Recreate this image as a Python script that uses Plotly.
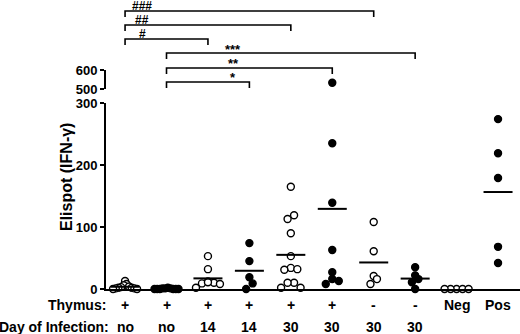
import plotly.graph_objects as go

# ---------------- data ----------------
thymus = ["+", "+", "+", "+", "+", "+", "-", "-", "Neg", "Pos"]
day = ["no", "no", "14", "14", "30", "30", "30", "30", "", ""]
filled = [False, True, False, True, False, True, False, True, False, True]
g1 = [13, 8, 6, 4, 3, 2, 2, 1, 1, 0, 0]
g2 = [2, 1, 1, 1, 0, 0, 0, 0, 0, 0]
g3 = [53, 32, 12, 10, 9, 8, 11, 2]
g4 = [74, 45, 19, 9, 0]
g5 = [165, 119, 113, 90, 53, 34, 32, 31, 10, 10, 2, 2]
g6 = [533, 235, 139, 63, 27, 16, 13, 8]
g7 = [108, 61, 21, 16, 8]
g8 = [35, 22, 16, 11, 0]
g9 = [0, 0, 0, 0, 0]
g10 = [274, 219, 179, 68, 42]
groups = [g1, g2, g3, g4, g5, g6, g7, g8, g9, g10]
brackets_hash = [(1, 3, "#"), (1, 5, "##"), (1, 7, "###")]
brackets_star = [(2, 4, "*"), (2, 6, "**"), (2, 8, "***")]

# ---------------- layout geometry ----------------
W, H = 520, 334
x_left_px = 106
xr = [0.54, 10.53]
ylow_dom = [1 - 289 / H, 1 - 103 / H]
yup_dom = [1 - 89 / H, 1 - 70 / H]
px_per_x = (W - x_left_px) / (xr[1] - xr[0])
px_per_y = (ylow_dom[1] - ylow_dom[0]) * H / 300.0


def swarm(vals, bin_px=6.0, max_step=6.5, max_width=24.0):
    order = sorted(range(len(vals)), key=lambda i: vals[i])
    bins = []
    for i in order:
        yp = min(vals[i], 300) * px_per_y
        if bins and yp - bins[-1][0] < bin_px:
            bins[-1][1].append(i)
        else:
            bins.append((yp, [i]))
    offs = [0.0] * len(vals)
    for _, idx in bins:
        n = len(idx)
        s = max_step if n < 2 else min(max_step, max_width / (n - 1))
        idx = sorted(idx, key=lambda i: -vals[i])
        slots = sorted(range(n), key=lambda j: (abs(j - (n - 1) / 2.0), -j))
        for i, j in zip(idx, slots):
            offs[i] = (j - (n - 1) / 2.0) * s / px_per_x
    return offs


fig = go.Figure()
for gi, vals in enumerate(groups):
    xc = gi + 1
    low = [v for v in vals if v <= 300]
    up = [v for v in vals if v > 300]
    offs = swarm(low)
    mk = dict(size=7, color="black" if filled[gi] else "white",
              line=dict(color="black", width=1.4))
    fig.add_trace(go.Scatter(x=[xc + o for o in offs], y=low, mode="markers",
                             marker=mk, cliponaxis=False, showlegend=False))
    if up:
        fig.add_trace(go.Scatter(x=[xc] * len(up), y=up, mode="markers", yaxis="y2",
                                 marker=mk, cliponaxis=False, showlegend=False))
    if gi != 8:
        m = sum(vals) / len(vals)
        fig.add_trace(go.Scatter(x=[xc - 0.35, xc + 0.35], y=[m, m], mode="lines",
                                 line=dict(color="black", width=2), cliponaxis=False,
                                 showlegend=False))

font = "Liberation Sans, Arial, sans-serif"
axfont = dict(family=font, size=13, color="black")

fig.update_layout(
    template="none",
    width=W, height=H, margin=dict(l=0, r=0, t=0, b=0, pad=0), autosize=False,
    plot_bgcolor="white", paper_bgcolor="white", hovermode=False,
    xaxis=dict(domain=[x_left_px / W, 1], range=xr, showgrid=False, zeroline=False,
               showticklabels=False, ticks="", showline=True, linecolor="black",
               linewidth=2, anchor="y", automargin=False),
    yaxis=dict(domain=ylow_dom, range=[0, 300], tickvals=[0, 100, 200, 300],
               ticktext=["<b>0</b>", "<b>100</b>", "<b>200</b>", "<b>300</b>"],
               showgrid=False, zeroline=False, showline=True, linecolor="black",
               linewidth=2, ticks="outside", ticklen=4, tickwidth=2, tickcolor="black",
               tickfont=axfont, anchor="x", automargin=False),
    yaxis2=dict(domain=yup_dom, range=[500, 600], tickvals=[500, 600],
                ticktext=["<b>500</b>", "<b>600</b>"],
                showgrid=False, zeroline=False, showline=True, linecolor="black",
                linewidth=2, ticks="outside", ticklen=4, tickwidth=2, tickcolor="black",
                tickfont=axfont, anchor="x", automargin=False),
)

ann = []
ann.append(dict(text="<b>Elispot (IFN-γ)</b>", x=66 / W, y=1 - 177 / H, xref="paper",
                yref="paper", xanchor="center", yanchor="middle", textangle=-90,
                showarrow=False, font=dict(family=font, size=16, color="black")))
lab_font = dict(family=font, size=14, color="black")
ann.append(dict(text="<b>Thymus:</b>", x=108 / W, y=1 - 305 / H, xref="paper", yref="paper",
                xanchor="right", yanchor="middle", showarrow=False, font=lab_font))
ann.append(dict(text="<b>Day of Infection:</b>", x=111 / W, y=1 - 327 / H, xref="paper",
                yref="paper", xanchor="right", yanchor="middle", showarrow=False,
                font=lab_font))
for i in range(10):
    ann.append(dict(text="<b>%s</b>" % thymus[i], x=i + 1, y=1 - 305 / H, xref="x",
                    yref="paper", xanchor="center", yanchor="middle", showarrow=False,
                    font=lab_font))
    if day[i]:
        ann.append(dict(text="<b>%s</b>" % day[i], x=i + 1, y=1 - 327 / H, xref="x",
                        yref="paper", xanchor="center", yanchor="middle",
                        showarrow=False, font=lab_font))

shapes = []
bys = {"#": 39, "##": 25, "###": 11, "*": 82, "**": 68, "***": 53}
for (a, b, s) in brackets_hash + brackets_star:
    yb = 1 - bys[s] / H
    yt = 1 - (bys[s] + 6) / H
    path = "M %f,%f L %f,%f L %f,%f L %f,%f" % (a, yt, a, yb, b, yb, b, yt)
    shapes.append(dict(type="path", path=path, xref="x", yref="paper",
                       line=dict(color="black", width=1.6)))
    if s.startswith("#"):
        lxp, cy, fs = 142, bys[s] - 5, 12
    else:
        lxp, cy, fs = 233, bys[s] - 4, 13
    lx = (lxp - x_left_px) / px_per_x + xr[0]
    ann.append(dict(text="<b>%s</b>" % s, x=lx, y=1 - cy / H, xref="x", yref="paper",
                    xanchor="center", yanchor="middle", showarrow=False,
                    font=dict(family=font, size=fs, color="black")))

fig.update_layout(annotations=ann, shapes=shapes)
fig.write_html("out.html", config={"displayModeBar": False, "staticPlot": True},
               post_script="document.body.style.margin='0';document.body.style.overflow='hidden';")
